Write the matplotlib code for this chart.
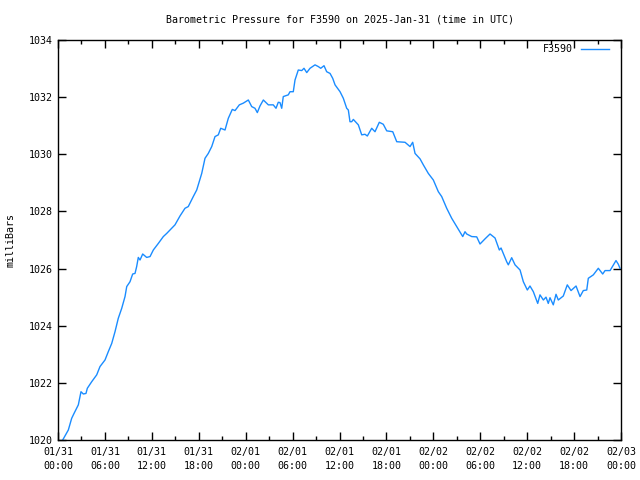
import numpy as np
import matplotlib
matplotlib.use('Agg')
from matplotlib import pyplot as plt

# hours since 2025-01-31 00:00 UTC
hours = [0.6, 1.32, 1.75, 2.05, 2.60, 2.94, 3.24, 3.58, 3.75, 4.31, 4.95, 5.37, 6.01, 6.43, 6.87,
         7.29, 7.71, 8.15, 8.57, 8.79, 9.21, 9.55, 9.85, 10.06, 10.27, 10.49, 10.83, 11.34, 11.77,
         12.19, 12.83, 13.47, 13.90, 14.32, 14.96, 15.60, 16.24, 16.66, 17.30, 17.74, 18.38, 18.80,
         19.22, 19.66, 20.08, 20.50, 20.81, 21.36, 21.78, 22.29, 22.64, 23.19, 23.70, 24.34, 24.77,
         25.19, 25.49, 25.83, 26.26, 26.90, 27.53, 27.88, 28.17, 28.39, 28.61, 28.81, 29.45, 29.67,
         30.09, 30.31, 30.73, 31.17, 31.46, 31.81, 32.23, 32.87, 33.29, 33.60, 34.02, 34.36, 34.79,
         35.13, 35.43, 36.07, 36.49, 36.92, 37.13, 37.34, 37.56, 37.77, 38.41, 38.84, 39.26, 39.56,
         40.12, 40.54, 41.09, 41.60, 42.04, 42.81, 43.32, 44.38, 45.02, 45.36, 45.66, 46.30, 46.72,
         47.36, 48.00, 48.64, 49.07, 49.71, 50.35, 50.99, 51.76, 52.05, 52.27, 52.91, 53.55, 53.97,
         54.61, 55.25, 55.89, 56.44, 56.66, 57.38, 57.59, 58.02, 58.45, 59.09, 59.51, 60.02, 60.36,
         60.79, 61.35, 61.64, 62.07, 62.41, 62.70, 62.92, 63.34, 63.69, 63.98, 64.62, 65.13, 65.61,
         66.25, 66.76, 67.18, 67.62, 67.82, 68.46, 69.10, 69.66, 69.96, 70.60, 71.36, 71.66, 71.87]

pressure = [1020.00, 1020.35, 1020.76, 1020.93, 1021.23, 1021.69, 1021.61, 1021.63, 1021.81, 1022.04,
            1022.28, 1022.57, 1022.80, 1023.09, 1023.38, 1023.79, 1024.26, 1024.61, 1025.02, 1025.37,
            1025.54, 1025.81, 1025.83, 1026.07, 1026.39, 1026.30, 1026.51, 1026.39, 1026.42, 1026.65,
            1026.88, 1027.12, 1027.23, 1027.35, 1027.53, 1027.84, 1028.11, 1028.17, 1028.52, 1028.75,
            1029.33, 1029.86, 1030.03, 1030.27, 1030.62, 1030.68, 1030.91, 1030.85, 1031.26, 1031.57,
            1031.53, 1031.73, 1031.79, 1031.90, 1031.67, 1031.61, 1031.46, 1031.69, 1031.90, 1031.73,
            1031.73, 1031.61, 1031.82, 1031.81, 1031.61, 1032.02, 1032.08, 1032.19, 1032.19, 1032.60,
            1032.95, 1032.93, 1033.01, 1032.86, 1033.01, 1033.13, 1033.07, 1033.01, 1033.10, 1032.89,
            1032.83, 1032.66, 1032.43, 1032.19, 1031.96, 1031.61, 1031.55, 1031.14, 1031.14, 1031.22,
            1031.03, 1030.68, 1030.70, 1030.64, 1030.91, 1030.79, 1031.12, 1031.05, 1030.82, 1030.79,
            1030.44, 1030.42, 1030.27, 1030.42, 1030.03, 1029.84, 1029.63, 1029.33, 1029.10, 1028.69,
            1028.52, 1028.11, 1027.76, 1027.47, 1027.12, 1027.29, 1027.21, 1027.12, 1027.11, 1026.86,
            1027.04, 1027.21, 1027.07, 1026.65, 1026.72, 1026.24, 1026.13, 1026.38, 1026.13, 1025.95,
            1025.54, 1025.25, 1025.39, 1025.19, 1024.78, 1025.08, 1024.90, 1025.00, 1024.78, 1024.98,
            1024.73, 1025.10, 1024.90, 1025.04, 1025.43, 1025.23, 1025.39, 1025.02, 1025.23, 1025.25,
            1025.66, 1025.78, 1026.01, 1025.81, 1025.93, 1025.93, 1026.28, 1026.15, 1026.01]

tick_hours = list(range(0, 73, 6))
tick_labels = ['01/31\n00:00', '01/31\n06:00', '01/31\n12:00', '01/31\n18:00',
               '02/01\n00:00', '02/01\n06:00', '02/01\n12:00', '02/01\n18:00',
               '02/02\n00:00', '02/02\n06:00', '02/02\n12:00', '02/02\n18:00',
               '02/03\n00:00']
y_ticks = [1020, 1022, 1024, 1026, 1028, 1030, 1032, 1034]

mono = 'DejaVu Sans Mono'
fs = 7.2

fig = plt.figure(figsize=(6.4, 4.8), dpi=100)
ax = fig.add_axes([58/640, 40/480, 563/640, 400/480])

ax.plot(hours, pressure, color='#1a8cff', lw=1.0, label='F3590')

ax.set_xlim(0, 72)
ax.set_ylim(1020, 1034)
ax.set_xticks(tick_hours, labels=tick_labels, linespacing=1.45, fontfamily=mono, fontsize=fs)
ax.set_xticks(list(range(3, 72, 6)), minor=True)
ax.set_yticks(y_ticks, labels=[str(v) for v in y_ticks], fontfamily=mono, fontsize=fs)

ax.tick_params(which='both', direction='in', top=True, right=True, width=1, color='black')
ax.tick_params(which='major', length=6)
ax.tick_params(which='minor', length=3)
ax.tick_params(axis='x', pad=5)
ax.tick_params(axis='y', pad=4)
for s in ax.spines.values():
    s.set_linewidth(1)

fig.text(339.5/640, 1 - 20/480, 'Barometric Pressure for F3590 on 2025-Jan-31 (time in UTC)',
         ha='center', va='center', fontfamily=mono, fontsize=fs)
fig.text(11/640, 0.5, 'milliBars', rotation=90, ha='center', va='center',
         fontfamily=mono, fontsize=fs)

leg = ax.legend(loc='upper right', frameon=False, markerfirst=False, handlelength=2.8,
                handletextpad=0.8, borderaxespad=0.15, borderpad=0.3,
                bbox_to_anchor=(1 - 8/563, 1),
                prop={'family': mono, 'size': fs})

fig.savefig('out.png', dpi=100)
